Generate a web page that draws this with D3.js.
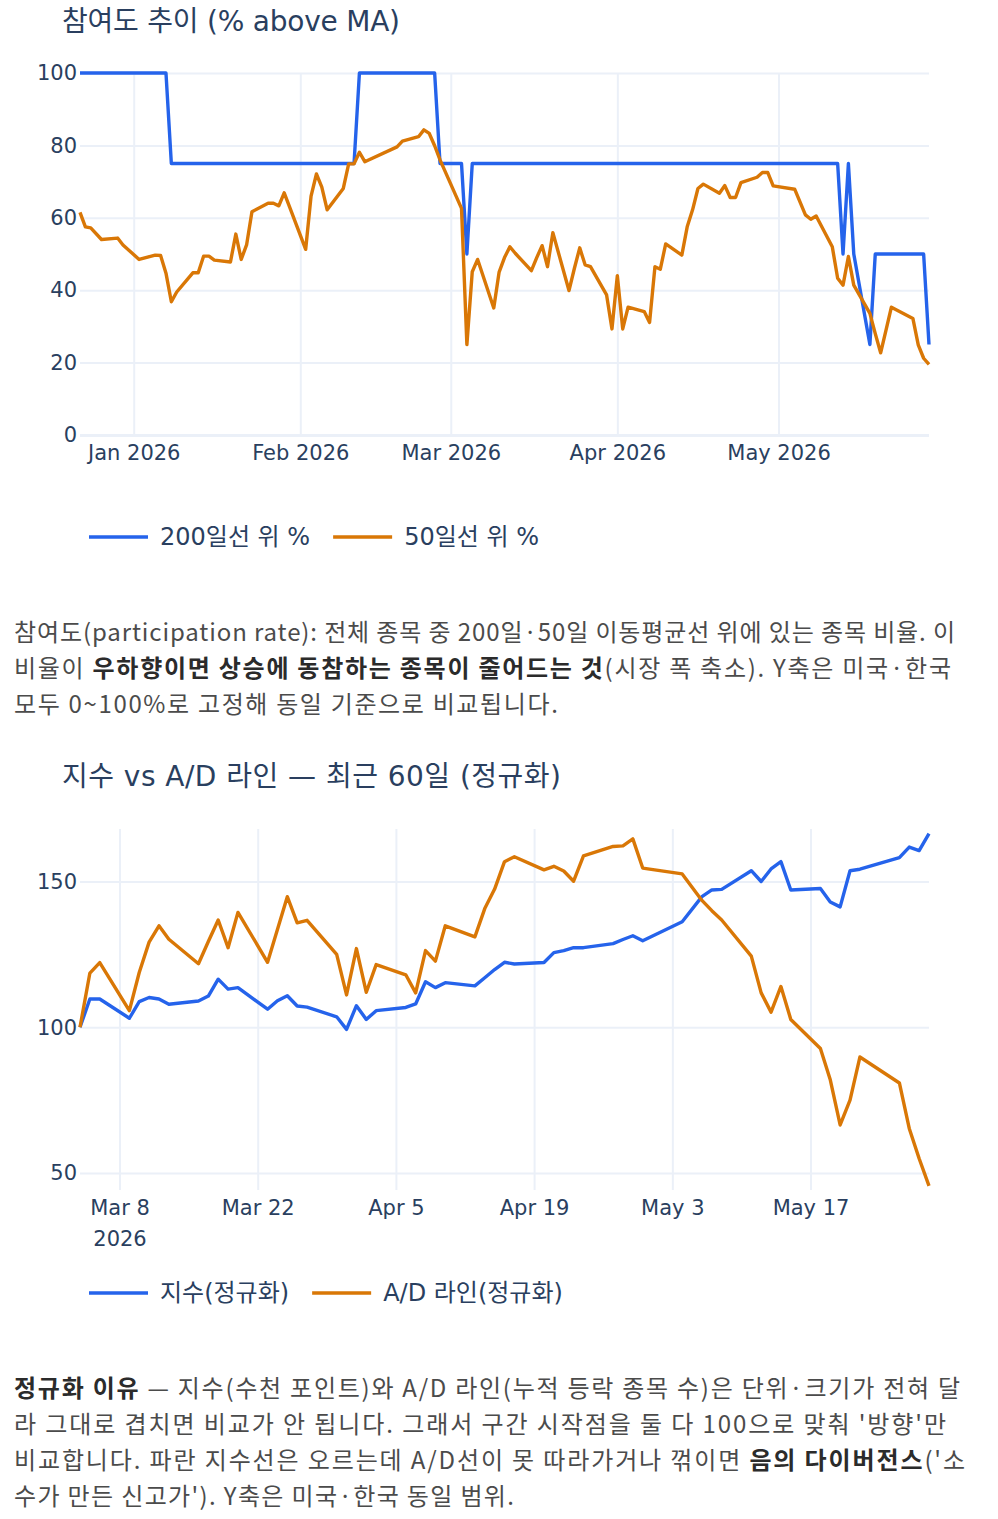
<!DOCTYPE html>
<html>
<head>
<meta charset="utf-8">
<script src="https://cdn.jsdelivr.net/npm/d3@7"></script>
<style>
    body { margin: 0; background: #fff; }
    #page { display: block; }
</style>
</head>
<body>
<svg id="page" width="998" height="1519"></svg>
<script>
// ---- chart 1 : % of stocks above moving average ----
var dates1 = [
    "2025-12-22","2025-12-23","2025-12-24","2025-12-26","2025-12-29","2025-12-30",
    "2026-01-02","2026-01-05","2026-01-06","2026-01-07","2026-01-08","2026-01-09","2026-01-12","2026-01-13",
    "2026-01-14","2026-01-15","2026-01-16","2026-01-19","2026-01-20","2026-01-21","2026-01-22","2026-01-23",
    "2026-01-26","2026-01-27","2026-01-28","2026-01-29","2026-01-30",
    "2026-02-02","2026-02-03","2026-02-04","2026-02-05","2026-02-06","2026-02-09","2026-02-10","2026-02-11",
    "2026-02-12","2026-02-13","2026-02-19","2026-02-20","2026-02-23","2026-02-24","2026-02-25","2026-02-26","2026-02-27",
    "2026-03-03","2026-03-04","2026-03-05","2026-03-06","2026-03-09","2026-03-10","2026-03-11","2026-03-12","2026-03-13",
    "2026-03-16","2026-03-17","2026-03-18","2026-03-19","2026-03-20","2026-03-23","2026-03-24","2026-03-25","2026-03-26",
    "2026-03-27","2026-03-30","2026-03-31",
    "2026-04-01","2026-04-02","2026-04-03","2026-04-06","2026-04-07","2026-04-08","2026-04-09","2026-04-10","2026-04-13",
    "2026-04-14","2026-04-15","2026-04-16","2026-04-17","2026-04-20","2026-04-21","2026-04-22","2026-04-23","2026-04-24",
    "2026-04-27","2026-04-28","2026-04-29","2026-04-30",
    "2026-05-04","2026-05-06","2026-05-07","2026-05-08","2026-05-11","2026-05-12","2026-05-13","2026-05-14","2026-05-15",
    "2026-05-18","2026-05-19","2026-05-20","2026-05-21","2026-05-22","2026-05-26","2026-05-27","2026-05-28","2026-05-29"
];
var above200 = [
    100, 100, 100, 100, 100, 100,
    100, 100, 100, 100, 75, 75, 75, 75, 75, 75, 75, 75, 75, 75, 75, 75, 75, 75, 75, 75, 75,
    75, 75, 75, 75, 75, 75, 75, 75, 100, 100, 100, 100, 100, 100, 100, 100, 75,
    75, 50, 75, 75, 75, 75, 75, 75, 75, 75, 75, 75, 75, 75, 75, 75, 75, 75, 75, 75, 75,
    75, 75, 75, 75, 75, 75, 75, 75, 75, 75, 75, 75, 75, 75, 75, 75, 75, 75, 75, 75, 75, 75,
    75, 75, 75, 75, 75, 75, 50, 75, 50, 25, 50, 50, 50, 50, 50, 50, 50, 25
];
var above50 = [
    61.5, 57.5, 57.2, 54.0, 54.4, 52.5,
    48.5, 49.7, 49.6, 44.7, 36.8, 39.5, 44.8, 44.8, 49.4, 49.4, 48.3, 47.8, 55.5, 48.5, 52.5, 61.7,
    64.0, 64.0, 63.3, 66.9, 63.0,
    51.3, 66.0, 72.1, 68.5, 62.2, 68.1, 74.9, 74.9, 78.1, 75.5, 79.6, 81.2, 82.4, 84.3, 83.3, 79.9, 76.0,
    62.6, 25.0, 45.1, 48.5, 35.1, 45.0, 49.0, 52.0, 50.2, 45.4, 49.0, 52.3, 46.5, 55.9, 39.9, 46.0, 51.7,
    47.0, 46.5, 38.7, 29.3,
    44.0, 29.3, 35.3, 34.1, 31.1, 46.5, 45.8, 52.8, 49.7, 57.5, 62.2, 68.1, 69.3, 66.8, 68.9, 65.6, 65.6,
    69.7, 71.2, 72.5, 72.5, 68.8,
    67.9, 60.8, 59.6, 60.5, 52.0, 43.3, 41.4, 49.3, 41.4, 33.6, 28.0, 22.7, 29.0, 35.3, 32.2, 24.9, 21.2, 19.5
];
var ticks1 = ["2026-01-01", "2026-02-01", "2026-03-01", "2026-04-01", "2026-05-01"];
var yTicks1 = [0, 20, 40, 60, 80, 100];
var names1 = ["200일선 위 %", "50일선 위 %"];
var title1 = "참여도 추이 (% above MA)";

// ---- chart 2 : index vs A/D line, last 60 days, rebased to 100 ----
var dates2 = [
    "2026-03-04","2026-03-05","2026-03-06","2026-03-09","2026-03-10","2026-03-11","2026-03-12","2026-03-13",
    "2026-03-16","2026-03-17","2026-03-18","2026-03-19","2026-03-20","2026-03-23","2026-03-24","2026-03-25",
    "2026-03-26","2026-03-27","2026-03-30","2026-03-31",
    "2026-04-01","2026-04-02","2026-04-03","2026-04-06","2026-04-07","2026-04-08","2026-04-09","2026-04-10",
    "2026-04-13","2026-04-14","2026-04-15","2026-04-16","2026-04-17","2026-04-20","2026-04-21","2026-04-22",
    "2026-04-23","2026-04-24","2026-04-27","2026-04-28","2026-04-29","2026-04-30",
    "2026-05-04","2026-05-06","2026-05-07","2026-05-08","2026-05-11","2026-05-12","2026-05-13","2026-05-14",
    "2026-05-15","2026-05-18","2026-05-19","2026-05-20","2026-05-21","2026-05-22","2026-05-26","2026-05-27",
    "2026-05-28","2026-05-29"
];
var indexNorm = [
    100.0, 109.7, 109.7, 103.1, 108.8, 110.2, 109.7, 107.9, 109.0, 110.7, 116.5, 113.1, 113.6, 106.2, 109.1, 110.8,
    107.3, 106.9, 103.6, 99.3,
    107.4, 102.7, 105.7, 106.8, 108.0, 115.6, 113.6, 115.3, 114.2, 117.0, 119.8, 122.3, 121.7, 122.2, 125.6, 126.3,
    127.3, 127.3, 128.7, 130.1, 131.4, 129.7,
    136.2, 144.8, 147.1, 147.3, 153.7, 150.0, 154.3, 156.8, 147.1, 147.6, 143.0, 141.3, 153.7, 154.2, 158.2, 161.8,
    160.6, 166.4
];
var adNorm = [
    100.0, 118.6, 122.2, 105.7, 118.8, 129.2, 134.8, 130.2, 121.8, 129.4, 136.8, 127.3, 139.4, 122.3, 133.5, 144.8,
    135.8, 136.7, 125.0, 111.1,
    127.0, 112.0, 121.5, 118.0, 111.8, 126.3, 122.7, 134.8, 131.0, 140.7, 147.4, 156.8, 158.5, 154.0, 155.2, 153.6,
    150.1, 158.8, 162.0, 162.2, 164.6, 154.6,
    152.6, 143.5, 140.0, 136.8, 124.4, 111.8, 105.2, 114.0, 102.7, 92.7, 82.0, 66.5, 75.0, 89.8, 80.9, 65.3,
    55.0, 45.6
];
var ticks2 = ["2026-03-08", "2026-03-22", "2026-04-05", "2026-04-19", "2026-05-03", "2026-05-17"];
var yTicks2 = [50, 100, 150];
var names2 = ["지수(정규화)", "A/D 라인(정규화)"];
var title2 = "지수 vs A/D 라인 — 최근 60일 (정규화)";

// ---- notes under the charts (one entry per line, [text, bold]) ----
var note1 = [
    [["참여도(participation rate): 전체 종목 중 200일·50일 이동평균선 위에 있는 종목 비율. 이", false]],
    [["비율이 ", false], ["우하향이면 상승에 동참하는 종목이 줄어드는 것", true], ["(시장 폭 축소). Y축은 미국·한국", false]],
    [["모두 0~100%로 고정해 동일 기준으로 비교됩니다.", false]]
];
var note2 = [
    [["정규화 이유", true], [" — 지수(수천 포인트)와 A/D 라인(누적 등락 종목 수)은 단위·크기가 전혀 달", false]],
    [["라 그대로 겹치면 비교가 안 됩니다. 그래서 구간 시작점을 둘 다 100으로 맞춰 '방향'만", false]],
    [["비교합니다. 파란 지수선은 오르는데 A/D선이 못 따라가거나 꺾이면 ", false], ["음의 다이버전스", true], ["('소", false]],
    [["수가 만든 신고가'). Y축은 미국·한국 동일 범위.", false]]
];

var BLUE = "#2563eb", ORANGE = "#d97706", GRID = "#ebf0f8", INK = "#2a3f5f";
var FONT = "'DejaVu Sans', 'Noto Sans CJK KR', sans-serif";
var parseDay = d3.timeParse("%Y-%m-%d");
var svg = d3.select("#page");

function drawPanel(cfg) {
    var g = svg.append("g");
    var dates = cfg.dates.map(parseDay);

    var fnScaleX = d3.scaleTime()
        .domain(d3.extent(dates))
        .range([cfg.left, cfg.right]);
    var fnScaleY = d3.scaleLinear()
        .domain(cfg.yDomain)
        .range([cfg.bottom, cfg.top]);

    // vertical grid + date labels
    var axisX = d3.axisBottom(fnScaleX)
        .tickValues(cfg.xTicks.map(parseDay))
        .tickSize(-(cfg.bottom - cfg.top))
        .tickPadding(10)
        .tickFormat(cfg.xFormat);
    var gx = g.append("g")
        .attr("transform", "translate(0," + cfg.bottom + ")")
        .call(axisX);
    gx.select(".domain").remove();
    gx.selectAll(".tick line").attr("stroke", GRID).attr("stroke-width", 2);
    gx.selectAll(".tick text")
        .attr("fill", INK).style("font-family", FONT).style("font-size", "21px")
        .each(function () {
            var t = d3.select(this), parts = t.text().split("\n");
            if (parts.length > 1) {
                t.text(null);
                parts.forEach(function (p, i) {
                    t.append("tspan").attr("x", 0).attr("dy", i == 0 ? "0.71em" : "1.5em").text(p);
                });
                t.attr("dy", null);
            }
        });

    // horizontal grid + value labels
    var axisY = d3.axisLeft(fnScaleY)
        .tickValues(cfg.yTicks)
        .tickSize(-(cfg.right - cfg.left))
        .tickPadding(3);
    var gy = g.append("g")
        .attr("transform", "translate(" + cfg.left + ",0)")
        .call(axisY);
    gy.select(".domain").remove();
    gy.selectAll(".tick line")
        .attr("stroke", GRID)
        .attr("stroke-width", function (d) { return d === 0 ? 3 : 2; });
    gy.selectAll(".tick text")
        .attr("fill", INK).style("font-family", FONT).style("font-size", "21px");

    // series
    cfg.series.forEach(function (s) {
        var fnLine = d3.line()
            .x(function (d, i) { return fnScaleX(dates[i]); })
            .y(function (d) { return fnScaleY(d); });
        g.append("path").datum(s.values)
            .attr("fill", "none")
            .attr("stroke", s.color)
            .attr("stroke-width", 3.4)
            .attr("stroke-linejoin", "round")
            .attr("d", fnLine);
    });

    // title
    g.append("text")
        .attr("x", 62).attr("y", cfg.titleY)
        .attr("textLength", cfg.titleWidth).attr("lengthAdjust", "spacing")
        .attr("fill", INK).style("font-family", FONT).style("font-size", "28px")
        .text(cfg.title);

    // legend
    var lx = 89;
    cfg.series.forEach(function (s) {
        g.append("line")
            .attr("x1", lx).attr("x2", lx + 59)
            .attr("y1", cfg.legendY).attr("y2", cfg.legendY)
            .attr("stroke", s.color).attr("stroke-width", 3.4);
        var t = g.append("text")
            .attr("x", lx + 71).attr("y", cfg.legendY).attr("dy", "0.35em")
            .attr("fill", INK).style("font-family", FONT).style("font-size", "24px")
            .text(s.name);
        lx = lx + 71 + t.node().getComputedTextLength() + 23;
    });
}

function drawNote(lines, top, widths) {
    lines.forEach(function (runs, i) {
        var t = svg.append("text")
            .attr("x", 14).attr("y", top + i * 36)
            .attr("textLength", widths[i]).attr("lengthAdjust", "spacing")
            .style("font-family", "'Noto Sans CJK KR', sans-serif").style("font-size", "24px")
            .attr("fill", "#4b4b4b");
        runs.forEach(function (r) {
            t.append("tspan")
                .attr("font-weight", r[1] ? 700 : 400)
                .attr("fill", r[1] ? "#2b2b2b" : "#4b4b4b")
                .text(r[0]);
        });
    });
}

var fmtMonth = d3.timeFormat("%b %Y");
var fmtDay = d3.timeFormat("%b %-d");

drawPanel({
    dates: dates1, left: 80, right: 929, top: 73, bottom: 435,
    yDomain: [0, 100], yTicks: yTicks1, xTicks: ticks1,
    xFormat: fmtMonth,
    series: [
        { name: names1[0], values: above200, color: BLUE },
        { name: names1[1], values: above50, color: ORANGE }
    ],
    title: title1, titleY: 31, titleWidth: 338, legendY: 537
});

drawPanel({
    dates: dates2, left: 80, right: 929, top: 829, bottom: 1190,
    yDomain: [44.2, 168.0], yTicks: yTicks2, xTicks: ticks2,
    xFormat: function (d, i) { return i == 0 ? fmtDay(d) + "\n" + d.getFullYear() : fmtDay(d); },
    series: [
        { name: names2[0], values: indexNorm, color: BLUE },
        { name: names2[1], values: adNorm, color: ORANGE }
    ],
    title: title2, titleY: 786, titleWidth: 499, legendY: 1293
});

drawNote(note1, 641, [941, 937, 544]);
drawNote(note2, 1397, [946, 932, 951, 500]);
</script>
</body>
</html>
